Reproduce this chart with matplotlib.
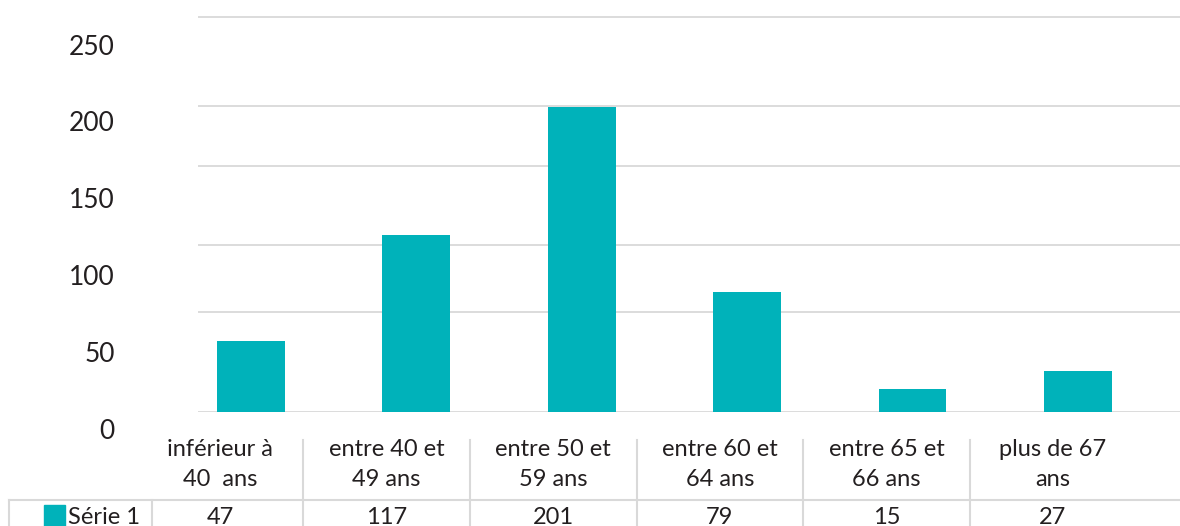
import matplotlib.pyplot as plt
from matplotlib.lines import Line2D

categories = ["inférieur à\n40  ans", "entre 40 et\n49 ans", "entre 50 et\n59 ans",
              "entre 60 et\n64 ans", "entre 65 et\n66 ans", "plus de 67\nans"]
values = [47, 117, 201, 79, 15, 27]
series_name = "Série 1"
y_ticks = [0, 50, 100, 150, 200, 250]
grid_levels = [0, 66, 110, 162.5, 202, 260.5]  # lignes de grille telles que dessinées

W, H = 1180, 526
bar_color = "#00b2ba"
text_color = "#231f20"
grid_color = "#d9d9d9"
plt.rcParams["font.family"] = ["Lato", "DejaVu Sans"]

fig = plt.figure(figsize=(W / 100, H / 100), dpi=100)

# zone des barres : base à y=412 px, 1.515 px par unité
base_px = 412
ax = fig.add_axes([198 / W, (H - base_px) / H, 1 - 198 / W, base_px / H])
ax.set_ylim(0, base_px / 1.515)
ax.set_xlim(-0.32, 5.617)
for g in grid_levels:
    ax.axhline(g, color=grid_color, lw=1.3, zorder=0)
ax.bar(range(len(values)), values, width=0.41, color=bar_color, zorder=2)
ax.axis("off")

# axe des étiquettes y
ax2 = fig.add_axes([198 / W, 0, 0.01, 1])
ax2.set_ylim(-(H - 429) / 1.538, 429 / 1.538)
ax2.set_yticks(y_ticks)
ax2.set_yticklabels([str(t) for t in y_ticks], fontsize=19, color=text_color)
ax2.tick_params(axis="y", length=0, pad=60)
ax2.set_xticks([])
for s in ax2.spines.values():
    s.set_visible(False)
ax2.patch.set_alpha(0)

# tableau de données
col_w = 166.6
centers = [220 + i * col_w for i in range(len(categories))]
seps = [c + col_w / 2 for c in centers[:-1]]


def px(x, y):
    return x / W, 1 - y / H


for c, lab, v in zip(centers, categories, values):
    l1, l2 = lab.split("\n")
    fig.text(*px(c, 449), l1, ha="center", va="center", fontsize=17, color=text_color)
    fig.text(*px(c, 479), l2, ha="center", va="center", fontsize=17, color=text_color)
    fig.text(*px(c, 517), str(v), ha="center", va="center", fontsize=17, color=text_color)

lc = dict(color=grid_color, lw=1.5, transform=fig.transFigure)
fig.add_artist(Line2D([9 / W, 1], [1 - 500 / H] * 2, **lc))
fig.add_artist(Line2D([9 / W] * 2, [1 - 500 / H, 0], **lc))
fig.add_artist(Line2D([152 / W] * 2, [1 - 500 / H, 0], **lc))
for s in seps:
    fig.add_artist(Line2D([s / W] * 2, [1 - 440 / H, 0], **lc))

# légende de la série
fig.patches.append(plt.Rectangle(px(44, 526), 21 / W, 21 / H, color=bar_color,
                                 transform=fig.transFigure))
fig.text(*px(68, 517), series_name, ha="left", va="center", fontsize=17, color=text_color)

fig.savefig("out.png", dpi=100)
